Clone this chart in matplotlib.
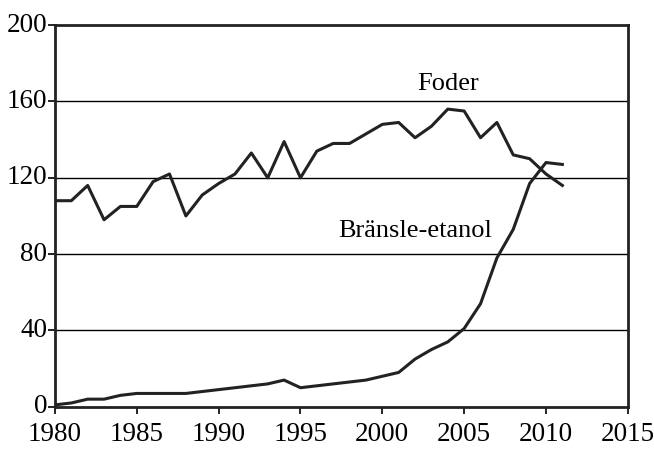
import matplotlib
matplotlib.use("Agg")
import matplotlib.pyplot as plt
import matplotlib.transforms as mtransforms

years = list(range(1980, 2012))
foder = [108, 108, 116, 98, 105, 105, 118, 122, 100, 111, 117, 122, 133, 120, 139, 120,
         134, 138, 138, 143, 148, 149, 141, 147, 156, 155, 141, 149, 132, 130, 122, 116]
etanol = [1, 2, 4, 4, 6, 7, 7, 7, 7, 8, 9, 10, 11, 12, 14, 10,
          11, 12, 13, 14, 16, 18, 25, 30, 34, 41, 54, 78, 93, 117, 128, 127]
xticks = [1980, 1985, 1990, 1995, 2000, 2005, 2010, 2015]
yticks = [0, 40, 80, 120, 160, 200]

plt.rcParams['font.family'] = ['Liberation Serif', 'DejaVu Serif']
fig = plt.figure(figsize=(6.54, 4.49), dpi=100)
ax = fig.add_axes([0.084, 0.094, 0.876, 0.850])

for y in yticks[1:-1]:
    ax.axhline(y, color='black', lw=1.0, zorder=1)

ax.plot(years, foder, color='#222222', lw=2.2, zorder=3)
ax.plot(years, etanol, color='#222222', lw=2.2, zorder=3)

ax.text(2004.0, 169, 'Foder', fontsize=19, ha='center', va='center')
ax.text(2002.0, 92, 'Bränsle-etanol', fontsize=19, ha='center', va='center')

ax.set_xlim(1980, 2015)
ax.set_ylim(0, 200)
ax.set_xticks(xticks)
ax.set_yticks(yticks)
ax.tick_params(axis='both', labelsize=19.5, direction='out', length=5, width=1.2, color='black')
ax.tick_params(axis='x', pad=6)
ax.tick_params(axis='y', pad=0.5)
offset = mtransforms.ScaledTranslation(0, 3 / 100, fig.dpi_scale_trans)
for lbl in ax.get_yticklabels():
    lbl.set_transform(lbl.get_transform() + offset)
for s in ax.spines.values():
    s.set_linewidth(2)
    s.set_color('#222222')

fig.savefig('out.png', dpi=100)
